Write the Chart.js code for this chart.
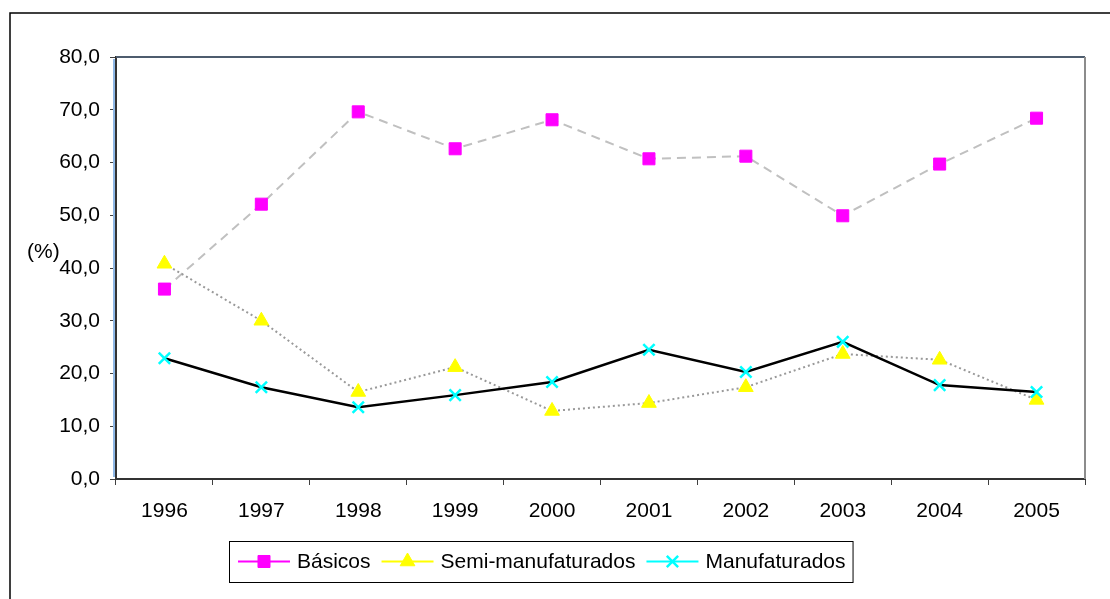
<!DOCTYPE html>
<html>
<head>
<meta charset="utf-8">
<script src="https://cdn.jsdelivr.net/npm/chart.js@4/dist/chart.umd.min.js"></script>
<style>
  html, body { margin: 0; padding: 0; background: #fff; }
  #wrap { width: 1110px; height: 599px; }
</style>
</head>
<body>
<div id="wrap"><canvas id="chartId" width="1110" height="599"></canvas></div>
<script>
const years = ['1996', '1997', '1998', '1999', '2000', '2001', '2002', '2003', '2004', '2005'];
const basicos = [36.0, 52.1, 69.6, 62.6, 68.1, 60.7, 61.2, 49.9, 59.7, 68.4];
const semiManuf = [40.8, 30.0, 16.5, 21.2, 12.9, 14.4, 17.4, 23.7, 22.6, 15.0];
const manuf = [22.9, 17.4, 13.6, 15.9, 18.4, 24.5, 20.3, 26.0, 17.8, 16.5];
const seriesNames = ['Básicos', 'Semi-manufaturados', 'Manufaturados'];

const FONT = 'Arial, "Liberation Sans", sans-serif';
const FSIZE = 21;

// frame, plot border, (%) label and the legend
const extras = {
    id: 'extras',
    beforeDraw(chart) {
        const ctx = chart.ctx;
        ctx.save();
        ctx.fillStyle = '#fff';
        ctx.fillRect(0, 0, chart.width, chart.height);
        ctx.strokeStyle = '#000';
        ctx.lineWidth = 1.5;
        ctx.beginPath();
        ctx.moveTo(10, chart.height);
        ctx.lineTo(10, 13);
        ctx.lineTo(chart.width, 13);
        ctx.stroke();
        ctx.restore();
    },
    afterDatasetsDraw(chart) {
        const ctx = chart.ctx;
        const a = chart.chartArea;
        ctx.save();
        // top and right of the plot
        ctx.lineWidth = 2;
        ctx.strokeStyle = '#4d5c6e';
        ctx.beginPath();
        ctx.moveTo(a.left, a.top);
        ctx.lineTo(a.right, a.top);
        ctx.stroke();
        ctx.strokeStyle = '#8c8c8c';
        ctx.beginPath();
        ctx.moveTo(a.right, a.top);
        ctx.lineTo(a.right, a.bottom);
        ctx.stroke();
        // light blue edge on the y axis
        ctx.strokeStyle = '#8fb8e6';
        ctx.lineWidth = 2;
        ctx.beginPath();
        ctx.moveTo(a.left - 2, a.top + 2);
        ctx.lineTo(a.left - 2, a.bottom - 2);
        ctx.stroke();

        ctx.fillStyle = '#000';
        ctx.font = FSIZE + 'px ' + FONT;
        ctx.textBaseline = 'middle';
        ctx.textAlign = 'left';
        ctx.fillText('(%)', 27, 252);

        // legend
        const top = 541, h = 41, left = 229;
        const cy = top + h / 2;
        const ds = chart.data.datasets;
        let x = left + 9;
        const parts = [];
        ds.forEach((d, i) => {
            const w = ctx.measureText(seriesNames[i]).width;
            parts.push({ d: d, name: seriesNames[i], x: x, w: w });
            x += 52 + 7 + w + 11;
        });
        const right = x - 11 + 7;
        ctx.strokeStyle = '#000';
        ctx.lineWidth = 1;
        ctx.strokeRect(left + 0.5, top + 0.5, right - left, h);
        parts.forEach(p => {
            const col = p.d.pointBorderColor;
            ctx.strokeStyle = col;
            ctx.lineWidth = 2;
            ctx.beginPath();
            ctx.moveTo(p.x, cy);
            ctx.lineTo(p.x + 52, cy);
            ctx.stroke();
            ctx.fillStyle = col;
            ctx.strokeStyle = col;
            ctx.lineWidth = p.d.pointBorderWidth;
            Chart.helpers.drawPoint(ctx, {
                pointStyle: p.d.pointStyle,
                radius: p.d.pointRadius,
                borderWidth: p.d.pointBorderWidth
            }, p.x + 26, cy);
            ctx.fillStyle = '#000';
            ctx.fillText(p.name, p.x + 59, cy + 1);
        });
        ctx.restore();
    }
};

const chrt = document.getElementById('chartId').getContext('2d');
const chart = new Chart(chrt, {
    type: 'line',
    data: {
        labels: years,
        datasets: [{
            label: seriesNames[0],
            data: basicos,
            borderColor: '#c0c0c0',
            borderDash: [9, 6],
            borderWidth: 2,
            pointStyle: 'rect',
            pointRadius: 8.5,
            pointBackgroundColor: '#ff00ff',
            pointBorderColor: '#ff00ff',
            pointBorderWidth: 1,
            tension: 0,
            order: 3
        }, {
            label: seriesNames[1],
            data: semiManuf,
            borderColor: '#999999',
            borderDash: [2, 3],
            borderWidth: 2,
            pointStyle: 'triangle',
            pointRadius: 8.5,
            pointBackgroundColor: '#ffff00',
            pointBorderColor: '#ffff00',
            pointBorderWidth: 1,
            tension: 0,
            order: 2
        }, {
            label: seriesNames[2],
            data: manuf,
            borderColor: '#000000',
            borderWidth: 2.5,
            pointStyle: 'crossRot',
            pointRadius: 8,
            pointBackgroundColor: '#00ffff',
            pointBorderColor: '#00ffff',
            pointBorderWidth: 2.5,
            tension: 0,
            order: 1
        }]
    },
    options: {
        responsive: false,
        animation: false,
        events: [],
        layout: { padding: { left: 16, top: 57, right: 25, bottom: 0 } },
        plugins: {
            legend: { display: false },
            tooltip: { enabled: false }
        },
        scales: {
            x: {
                offset: true,
                grid: { offset: true, drawOnChartArea: false, drawTicks: true, tickLength: 6, color: '#404040' },
                border: { color: '#333', width: 2 },
                ticks: { color: '#000', font: { family: FONT, size: FSIZE }, padding: 14, maxRotation: 0 },
                afterFit: s => { s.height = 120; }
            },
            y: {
                min: 0,
                max: 80,
                grid: { drawOnChartArea: false, drawTicks: true, tickLength: 6, color: '#404040' },
                border: { color: '#333', width: 2 },
                ticks: {
                    stepSize: 10,
                    color: '#000',
                    font: { family: FONT, size: FSIZE },
                    padding: 10,
                    callback: v => v.toFixed(1).replace('.', ',')
                },
                afterFit: s => { s.width = 100; }
            }
        }
    },
    plugins: [extras]
});
</script>
</body>
</html>
